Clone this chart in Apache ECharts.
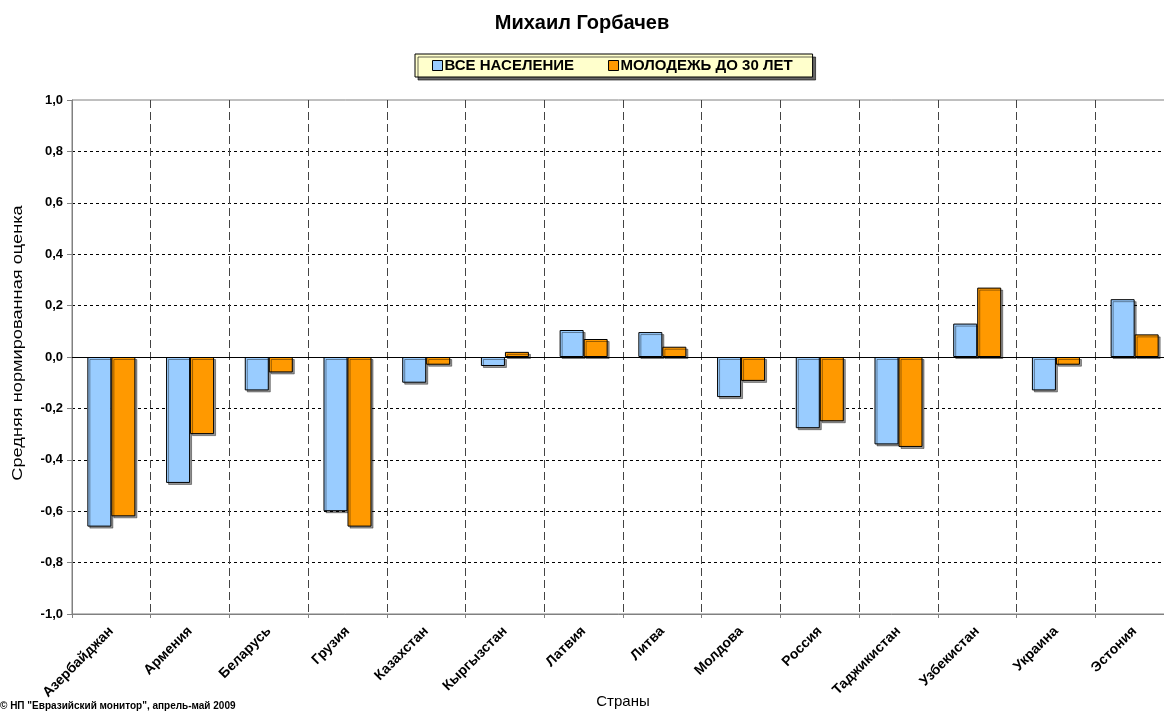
<!DOCTYPE html>
<html>
<head>
<meta charset="utf-8">
<title>Михаил Горбачев</title>
<script src="https://cdn.jsdelivr.net/npm/echarts@6/dist/echarts.min.js"></script>
<style>
  html, body { margin: 0; padding: 0; background: #fff; }
  #main { width: 1164px; height: 713px; }
</style>
</head>
<body>
<div id="main"></div>
<script>
// страны по оси X
const countries = ['Азербайджан', 'Армения', 'Беларусь', 'Грузия', 'Казахстан', 'Кыргызстан', 'Латвия',
  'Литва', 'Молдова', 'Россия', 'Таджикистан', 'Узбекистан', 'Украина', 'Эстония']
// все население
const allPopulation = [-0.66, -0.49, -0.13, -0.60, -0.10, -0.035, 0.105, 0.097, -0.156, -0.277, -0.34, 0.13, -0.13, 0.225]
// молодежь до 30 лет
const youth = [-0.62, -0.30, -0.06, -0.66, -0.03, 0.02, 0.07, 0.04, -0.093, -0.25, -0.35, 0.27, -0.03, 0.088]

const seriesNames = ['ВСЕ НАСЕЛЕНИЕ', 'МОЛОДЕЖЬ ДО 30 ЛЕТ']
const font = 'Arial, "Liberation Sans", sans-serif'

const myChart = echarts.init(document.getElementById('main'))

const barStyle = (color) => ({
  color: color,
  borderColor: '#000',
  borderWidth: 1,
  shadowColor: 'rgba(0,0,0,0.4)',
  shadowOffsetX: 2,
  shadowOffsetY: 2,
  shadowBlur: 0
})

// цвета горизонтальной сетки: крайние линии скрыты (их рисует рамка)
const splitColors = ['transparent', '#000', '#000', '#000', '#000', '#000', '#000', '#000', '#000', '#000', 'transparent']

const option = {
  backgroundColor: '#fff',
  animation: false,
  textStyle: { fontFamily: font },
  title: {
    text: 'Михаил Горбачев',
    left: 'center',
    top: 8,
    textStyle: { fontSize: 20, fontWeight: 'bold', color: '#000', fontFamily: font }
  },
  legend: {
    data: seriesNames,
    left: 415,
    top: 54,
    padding: [4, 20, 4, 17],
    itemGap: 34,
    itemWidth: 10,
    itemHeight: 10,
    icon: 'rect',
    backgroundColor: '#ffffcc',
    borderColor: '#000',
    borderWidth: 1,
    shadowColor: 'rgba(0,0,0,0.6)',
    shadowOffsetX: 3,
    shadowOffsetY: 3,
    shadowBlur: 0,
    itemStyle: { borderColor: '#000', borderWidth: 1, shadowBlur: 0, shadowOffsetX: 0, shadowOffsetY: 0 },
    textStyle: { fontSize: 15, fontWeight: 'bold', color: '#000', fontFamily: font, padding: [0, 0, 0, -3] }
  },
  grid: {
    left: 72,
    top: 100,
    width: 1102,
    bottom: 99,
    outerBoundsMode: 'none',
    show: true,
    borderColor: '#808080',
    borderWidth: 1
  },
  xAxis: {
    type: 'category',
    data: countries,
    name: 'Страны',
    nameLocation: 'middle',
    nameGap: 80,
    nameMoveOverlap: false,
    nameTextStyle: { fontSize: 15, color: '#000', fontFamily: font },
    axisLine: { onZero: false, lineStyle: { color: '#808080' } },
    axisTick: { show: true, length: 4, lineStyle: { color: '#808080' } },
    axisLabel: {
      rotate: 45,
      interval: 0,
      fontSize: 14,
      fontWeight: 'bold',
      color: '#000',
      margin: 15
    },
    splitLine: {
      show: true,
      interval: 0,
      lineStyle: { color: '#444', type: [8, 4], width: 1 }
    }
  },
  yAxis: {
    type: 'value',
    min: -1,
    max: 1,
    interval: 0.2,
    axisLine: { show: true, lineStyle: { color: '#808080' } },
    axisTick: { show: true, length: 5, lineStyle: { color: '#808080' } },
    axisLabel: {
      fontSize: 13,
      fontWeight: 'bold',
      color: '#000',
      margin: 9,
      formatter: (v) => v.toFixed(1).replace('.', ',')
    },
    splitLine: {
      show: true,
      lineStyle: { color: splitColors, type: [3, 3], width: 1 }
    }
  },
  series: [
    {
      name: seriesNames[0],
      type: 'bar',
      data: allPopulation,
      barGap: '0%',
      barCategoryGap: '39%',
      itemStyle: barStyle('#99ccff'),
      markLine: {
        silent: true,
        symbol: 'none',
        label: { show: false },
        lineStyle: { color: '#000', type: 'solid', width: 1 },
        data: [{ yAxis: 0 }]
      }
    },
    {
      name: seriesNames[1],
      type: 'bar',
      data: youth,
      barGap: '0%',
      barCategoryGap: '39%',
      itemStyle: barStyle('#ff9900')
    }
  ],
  graphic: [
    {
      // подпись оси Y (растянута, как в оригинале)
      type: 'text',
      x: 18,
      y: 343,
      rotation: Math.PI / 2,
      scaleX: 1.3,
      style: {
        text: 'Средняя нормированная оценка',
        fontSize: 14,
        fill: '#000',
        fontFamily: font,
        align: 'center',
        verticalAlign: 'middle'
      }
    },
    {
      type: 'text',
      left: 0,
      top: 701,
      style: {
        text: '© НП "Евразийский монитор", апрель-май 2009',
        fontSize: 10,
        fontWeight: 'bold',
        fill: '#000',
        fontFamily: font
      }
    }
  ]
}

myChart.setOption(option)
</script>
</body>
</html>
